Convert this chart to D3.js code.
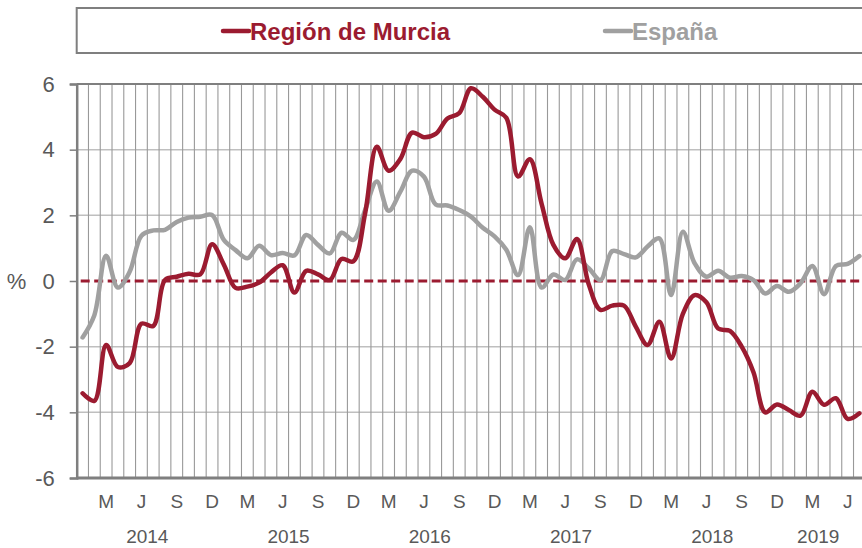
<!DOCTYPE html>
<html>
<head>
<meta charset="utf-8">
<script src="https://cdn.jsdelivr.net/npm/d3@7"></script>
<style>
  html, body { margin: 0; padding: 0; background: #fff; overflow: hidden; }
  svg { display: block; font-family: "Liberation Sans", Arial, sans-serif; }
</style>
</head>
<body>
<svg id="chart" width="862" height="548"></svg>
<script>
// ---- Data (monthly, Jan 2014 - Jul 2019) ----
const startYear = 2014;
const startMonth = 0; // January

const murcia = [
  -3.42, -3.65, -1.95, -2.62, -2.50, -1.30, -1.37, 0.03, 0.13, 0.22, 0.20, 1.12,
  0.50, -0.21, -0.17, -0.05, 0.26, 0.48, -0.35, 0.31, 0.20, 0.03, 0.67, 0.60,
  2.05, 4.09, 3.36, 3.72, 4.52, 4.38, 4.48, 4.95, 5.11, 5.87, 5.61, 5.22,
  4.97, 3.18, 3.71, 2.35, 1.10, 0.69, 1.28, -0.10, -0.88, -0.75, -0.75, -1.39,
  -1.95, -1.24, -2.36, -1.00, -0.43, -0.65, -1.45, -1.52, -2.00, -2.78, -4.00, -3.76,
  -3.93, -4.10, -3.37, -3.77, -3.57, -4.20, -4.03
];

const espana = [
  -1.72, -1.04, 0.77, -0.20, 0.28, 1.38, 1.54, 1.56, 1.80, 1.93, 1.96, 2.01,
  1.25, 0.94, 0.69, 1.07, 0.79, 0.85, 0.78, 1.40, 1.10, 0.84, 1.47, 1.25,
  2.16, 3.03, 2.14, 2.72, 3.36, 3.18, 2.33, 2.30, 2.16, 1.96, 1.62, 1.36,
  0.95, 0.18, 1.64, -0.20, 0.20, 0.03, 0.66, 0.39, 0.03, 0.91, 0.82, 0.72,
  1.05, 1.30, -0.43, 1.50, 0.54, 0.13, 0.31, 0.10, 0.15, 0.03, -0.38, -0.15,
  -0.33, -0.07, 0.46, -0.40, 0.46, 0.52, 0.76
];

const seriesNames = ["Región de Murcia", "España"];
const seriesColors = ["#9b1b30", "#a0a0a0"];

const yTicks = [-6, -4, -2, 0, 2, 4, 6];
const monthLetters = { 2: "M", 5: "J", 8: "S", 11: "D" };
const yearLabels = ["2014", "2015", "2016", "2017", "2018", "2019"];
const yearSpans  = [12, 12, 12, 12, 12, 6];

// ---- Layout ----
const svg = d3.select("#chart");
const nMonths = murcia.length;
const plotLeft = 76.7, bandW = 11.77;
const plotRight = plotLeft + nMonths * bandW;
const plotTop = 84, plotBottom = 478;

const x = d3.scaleBand().domain(d3.range(nMonths)).range([plotLeft, plotRight]).padding(0);
const y = d3.scaleLinear().domain([-6, 6]).range([plotBottom, plotTop]);
const cx = i => x(i) + x.bandwidth() / 2;

const textColor = "#595959";
const axisColor = "#7f7f7f";

// horizontal gridlines
svg.append("g").selectAll("line")
  .data(yTicks.filter(t => t !== 0 && t !== -6 && t !== 6))
  .join("line")
  .attr("x1", plotLeft).attr("x2", plotRight)
  .attr("y1", d => y(d)).attr("y2", d => y(d))
  .attr("stroke", "#bfbfbf").attr("stroke-width", 1.5);

// vertical gridlines at month boundaries
svg.append("g").selectAll("line")
  .data(d3.range(1, nMonths))
  .join("line")
  .attr("x1", d => x(d)).attr("x2", d => x(d))
  .attr("y1", plotTop).attr("y2", plotBottom)
  .attr("stroke", "#999999").attr("stroke-width", 1.1);

// top border
svg.append("line")
  .attr("x1", plotLeft).attr("x2", plotRight)
  .attr("y1", y(6)).attr("y2", y(6))
  .attr("stroke", axisColor).attr("stroke-width", 2);

// zero dashed line
svg.append("line")
  .attr("x1", plotLeft + 4).attr("x2", plotRight)
  .attr("y1", y(0)).attr("y2", y(0))
  .attr("stroke", seriesColors[0]).attr("stroke-width", 2.8)
  .attr("stroke-dasharray", "9,4.5");

// y axis
const yAxis = d3.axisLeft(y).tickValues(yTicks).tickSize(7).tickPadding(15).tickFormat(d3.format("d"));
const gy = svg.append("g").attr("transform", `translate(${plotLeft},0)`).call(yAxis);
gy.select(".domain").attr("stroke", axisColor).attr("stroke-width", 2.5);
gy.selectAll(".tick line").attr("stroke", axisColor).attr("stroke-width", 1.5);
gy.selectAll(".tick text").attr("fill", textColor).attr("font-size", 22)
  .attr("font-family", "Liberation Sans, Arial, sans-serif")
  .text(d => d < 0 ? "-" + Math.abs(d) : d);

// % label
svg.append("text").attr("x", 16.5).attr("y", y(0)).attr("dy", "0.36em")
  .attr("text-anchor", "middle").attr("font-size", 22).attr("fill", textColor).text("%");

// bottom axis line
svg.append("line")
  .attr("x1", plotLeft).attr("x2", plotRight)
  .attr("y1", plotBottom).attr("y2", plotBottom)
  .attr("stroke", axisColor).attr("stroke-width", 3);

// month labels
svg.append("g").selectAll("text")
  .data(d3.range(nMonths).filter(i => monthLetters[(startMonth + i) % 12]))
  .join("text")
  .attr("x", d => cx(d)).attr("y", 508)
  .attr("text-anchor", "middle").attr("font-size", 19).attr("fill", textColor)
  .text(d => monthLetters[(startMonth + d) % 12]);

// year labels
let acc = 0;
const yearPos = yearSpans.map(s => { const st = acc; acc += s; return (x(st) + x(st) + s * x.bandwidth()) / 2; });
svg.append("g").selectAll("text")
  .data(yearLabels)
  .join("text")
  .attr("x", (d, i) => yearPos[i]).attr("y", 543)
  .attr("text-anchor", "middle").attr("font-size", 19).attr("fill", textColor)
  .text(d => d);

// lines
const line = d3.line()
  .x((d, i) => cx(i))
  .y(d => y(d))
  .curve(d3.curveCatmullRom.alpha(0.5));

[espana, murcia].forEach((s, k) => {
  svg.append("path")
    .datum(s)
    .attr("d", line)
    .attr("fill", "none")
    .attr("stroke", k === 0 ? seriesColors[1] : seriesColors[0])
    .attr("stroke-width", 4.5)
    .attr("stroke-linejoin", "round")
    .attr("stroke-linecap", "round");
});

// legend
svg.append("rect")
  .attr("x", plotLeft).attr("y", 8)
  .attr("width", 900).attr("height", 45)
  .attr("fill", "#fff").attr("stroke", axisColor).attr("stroke-width", 2);

const legendItems = [
  { name: seriesNames[0], color: seriesColors[0], x: 222 },
  { name: seriesNames[1], color: seriesColors[1], x: 604 }
];
const lg = svg.append("g").selectAll("g").data(legendItems).join("g")
  .attr("transform", d => `translate(${d.x},31)`);
lg.append("line").attr("x1", 1).attr("x2", 27).attr("y1", 0).attr("y2", 0)
  .attr("stroke", d => d.color).attr("stroke-width", 4.5).attr("stroke-linecap", "round");
lg.append("text").attr("x", 28).attr("y", 0).attr("dy", "0.36em")
  .attr("font-size", 24).attr("font-weight", "bold")
  .attr("textLength", null)
  .attr("fill", d => d.color).text(d => d.name);
</script>
</body>
</html>
